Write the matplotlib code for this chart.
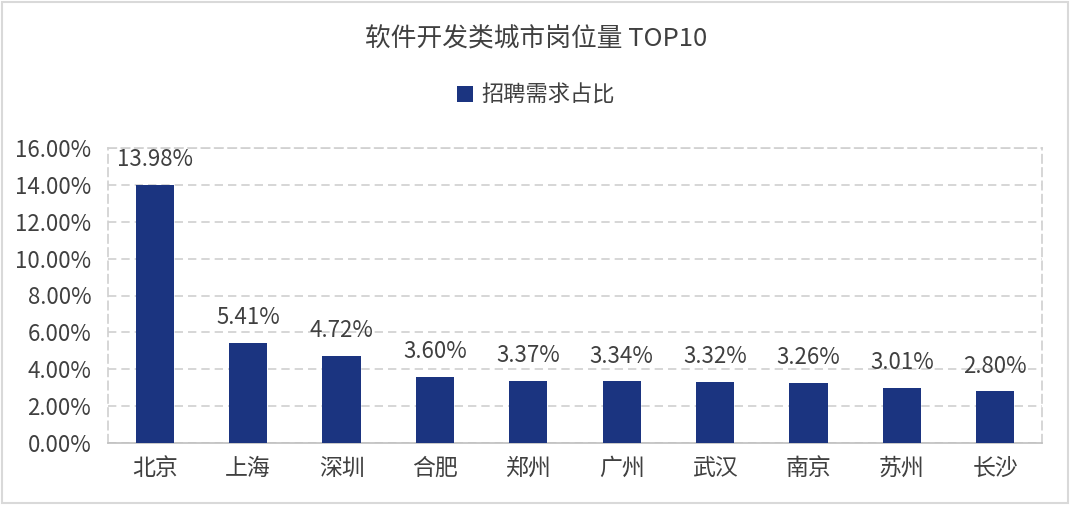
import matplotlib.pyplot as plt
from matplotlib.patches import Rectangle

plt.rcParams['font.family'] = ['Noto Sans CJK SC', 'DejaVu Sans']

# data
cities = ['北京', '上海', '深圳', '合肥', '郑州', '广州', '武汉', '南京', '苏州', '长沙']
share = [13.98, 5.41, 4.72, 3.60, 3.37, 3.34, 3.32, 3.26, 3.01, 2.80]
yticks = [0, 2, 4, 6, 8, 10, 12, 14, 16]

bar_color = '#1B3480'
text_color = '#404040'
grid_color = '#D0D0D0'

fig = plt.figure(figsize=(10.72, 5.05), dpi=100)
ax = fig.add_axes([108 / 1072, 1 - 443 / 505, 934 / 1072, 295 / 505])

x = range(len(cities))
bars = ax.bar(x, share, width=0.41, color=bar_color, label='招聘需求占比', zorder=3)
for xi, v in zip(x, share):
    ax.text(xi, v + 0.75, f'{v:.2f}%', ha='center', va='bottom', fontsize=16, color=text_color)

ax.set_xlim(-0.5, len(cities) - 0.5)
ax.set_ylim(0, 16)
ax.set_yticks(yticks)
ax.set_yticklabels([f'{t:.2f}%' for t in yticks], fontsize=16, color=text_color)
ax.set_xticks(list(x))
ax.set_xticklabels(cities, fontsize=16.5, color=text_color)
ax.tick_params(length=0)
ax.tick_params(axis='x', pad=10)
ax.tick_params(axis='y', pad=12)

ax.grid(axis='y', color=grid_color, linestyle=(0, (5, 3)), linewidth=1.2, zorder=0)
for side in ['top', 'right', 'left']:
    ax.spines[side].set_color(grid_color)
    ax.spines[side].set_linestyle((0, (5, 3)))
    ax.spines[side].set_linewidth(1.2)
ax.spines['bottom'].set_color('#BFBFBF')
ax.spines['bottom'].set_linewidth(1.2)

fig.text(0.5, 1 - 38 / 505, '软件开发类城市岗位量 TOP10', ha='center', va='center',
         fontsize=18.5, color=text_color)
fig.legend(loc='center', bbox_to_anchor=(0.5, 1 - 95 / 505), frameon=False,
           fontsize=16, handlelength=0.7, handleheight=0.7, handletextpad=0.4,
           labelcolor=text_color)

fig.patches.append(Rectangle((0.002, 0.004), 0.994, 0.992, transform=fig.transFigure,
                             fill=False, edgecolor='#D9D9D9', linewidth=1.5))

fig.savefig('out.png', dpi=100)
